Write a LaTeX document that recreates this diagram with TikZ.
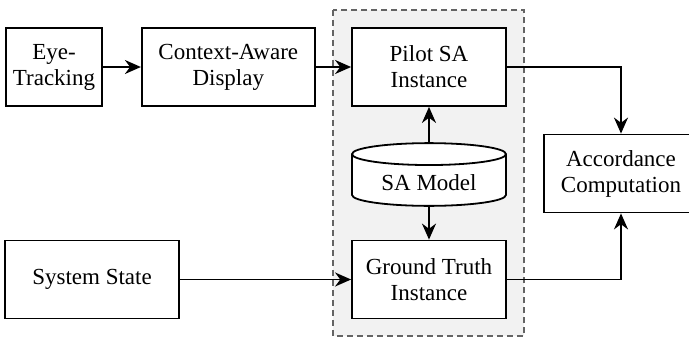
\documentclass[tikz,border=0pt]{standalone}
\usepackage{fontspec}
\setmainfont{Liberation Serif}
\usetikzlibrary{shapes.geometric,arrows.meta,positioning,calc}
\definecolor{groupfill}{RGB}{242,242,242}
\definecolor{groupline}{RGB}{100,100,100}

\begin{document}
\begin{tikzpicture}[x=1pt,y=-1pt,>={Stealth[length=16pt,width=14pt]},every node/.style={font=\fontsize{23}{26}\selectfont},
  blk/.style={draw,line width=1.8pt,fill=white,align=center,minimum height=78pt,inner sep=0pt},
  link/.style={->,line width=1.8pt}]
\clip(0,0)rectangle(689,338);
\draw[groupline,fill=groupfill,dash pattern=on 6pt off 4pt,line width=1.3pt](333,10)rectangle(524,336);
\node[blk,minimum width=96pt](eye)at(54,67){Eye-\\Tracking};
\node[blk,minimum width=173pt,right=38pt of eye](cad){Context-Aware\\Display};
\node[blk,minimum width=154pt](pilot)at(429,67){Pilot SA\\Instance};
\node[draw,line width=1.8pt,fill=white,cylinder,shape border rotate=90,aspect=0.23,minimum width=154pt,minimum height=51pt,inner sep=0pt,text height=25pt,text depth=4pt,anchor=shape center](model)at(429,174.5){SA Model};
\node[blk,minimum width=154pt](gt)at(429,279.5){Ground Truth\\Instance};
\node[blk,minimum width=174pt](sys)at(92,279.5){System State};
\node[blk,minimum width=154pt](acc)at(621,173.5){Accordance\\Computation};
\draw[link](eye)--(cad); \draw[link](cad)--(pilot); \draw[link](sys)--(gt);
\draw[link](model)--(pilot); \draw[link](model)--(gt);
\draw[link](pilot.east)-|(acc.north); \draw[link](gt.east)-|(acc.south);
\end{tikzpicture}
\end{document}
